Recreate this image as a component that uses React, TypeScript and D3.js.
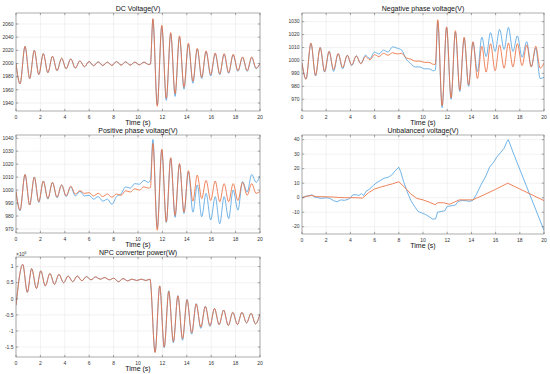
import * as d3 from 'd3'
import * as React from 'react'

// shared time axis ticks (s)
const timeTicks = [0, 2, 4, 6, 8, 10, 12, 14, 16, 18, 20]

// times of the turning points of the voltage traces (s)
const tVolt = [
  0, 0.33, 0.74, 1.12, 1.5, 1.87, 2.24, 2.61, 2.99, 3.36,
  3.74, 4.11, 4.49, 4.86, 5.24, 5.61, 5.99, 6.36, 6.74, 7.11,
  7.49, 7.86, 8.24, 8.61, 8.99, 9.36, 9.74, 10.11, 10.49, 10.86,
  11.02, 11.22, 11.58, 11.95, 12.32, 12.68, 13.04, 13.4, 13.77, 14.13,
  14.5, 14.86, 15.22, 15.58, 15.96, 16.33, 16.7, 17.06, 17.43, 17.8,
  18.19, 18.57, 18.95, 19.32, 19.68, 20,
]

// DC Voltage(V)
const dcTicks = [1940, 1960, 1980, 2000, 2020, 2040, 2060]
const dcBlue = [
  2000, 1969, 2026, 1977, 2020, 1983, 2015, 1986, 2011, 1989,
  2008, 1992, 2007, 1993, 2004, 1995, 2003, 1996.5, 2002.5, 1997,
  2002, 1997, 2003, 1997.5, 2002.5, 1997.5, 2002, 1998, 2002, 1998.5,
  1999, 2067, 1937, 2056, 1944, 2045, 1950, 2040, 1961, 2029,
  1970, 2022, 1977, 2018, 1981, 2015, 1983, 2014, 1985, 2013,
  1988, 2009, 1988, 2009, 1992, 2000,
]
const dcOrange = [
  2000, 1969, 2026, 1977, 2020, 1983, 2015, 1986, 2011, 1989,
  2008, 1992, 2007, 1993, 2004, 1995, 2003, 1996.5, 2002.5, 1997,
  2002, 1997, 2003, 1997.5, 2002.5, 1997.5, 2002, 1998, 2002, 1998.5,
  1999, 2068, 1935, 2058, 1947, 2047, 1954, 2042, 1964, 2031,
  1973, 2023, 1979, 2019, 1983, 2016, 1984, 2015, 1986, 2014,
  1989, 2010, 1989, 2010, 1993, 2000,
]

// Negative phase voltage(V)
const negTicks = [970, 980, 990, 1000, 1010, 1020, 1030]
const negBlue = [
  998, 985.5, 1013, 988, 1010, 991, 1007, 991.5, 1005, 993.5,
  1004, 996, 1003.5, 997.5, 1004, 1001.5, 1006.5, 1005, 1008, 1006.5,
  1010.5, 1009.5, 1008, 1001, 997.5, 995, 995, 993.5, 993.5, 992,
  992.5, 1030, 963.5, 1025.5, 970, 1022, 976, 1017, 980, 1014,
  991.5, 1018, 1003, 1021.5, 1007, 1024, 1008.5, 1025.5, 1007, 1019,
  1002.5, 1014.5, 995, 1009.5, 986, 987,
]
const negOrange = [
  998, 985.5, 1013.5, 988.5, 1010, 991.5, 1007, 993, 1005.5, 994.5,
  1004, 996.5, 1003.5, 997.5, 1003, 1000.5, 1004.5, 1003, 1005.5, 1004,
  1006, 1005, 1005.5, 1002, 1001, 999.5, 999.5, 998.5, 998.5, 997,
  997, 1031.5, 965, 1026, 971, 1023, 977, 1018, 981, 1014.5,
  986, 1011, 991, 1013, 992, 1012, 994, 1013.5, 995, 1013,
  996, 1012, 995, 1011, 994, 998,
]

// Positive phase voltage(V)
const posTicks = [970, 980, 990, 1000, 1010, 1020, 1030, 1040]
const posBlue = [
  999, 984, 1012, 988.5, 1010, 990.5, 1007, 993, 1006, 994,
  1004, 995, 1002.5, 995.5, 999, 995.5, 996, 993, 995, 991.5,
  993, 989, 995, 997, 1002.5, 1001.5, 1005, 1004.5, 1007.5, 1006,
  1008, 1039, 971, 1031, 975, 1024.5, 979, 1020, 982, 1014,
  983, 1004, 979.5, 997.5, 977, 995, 974, 995, 978, 1000,
  984.5, 1006.5, 998.5, 1012, 1006, 1011,
]
const posOrange = [
  999, 984.5, 1012, 988.5, 1010, 991, 1007, 993.5, 1006, 994.5,
  1004, 995.5, 1003, 997, 999.5, 997.5, 998, 995.5, 997.5, 995,
  997, 994.5, 997, 996, 999.5, 998.5, 1001, 1000, 1002.5, 1001.5,
  1002, 1036, 969, 1031.5, 975.5, 1025, 980.5, 1020.5, 983, 1015,
  991.5, 1011.5, 993.5, 1007.5, 992, 1007, 991, 1005, 991, 1005,
  992, 1006, 996, 1005, 997.5, 999,
]

// Unbalanced voltage(V)
const unbTicks = [-20, -10, 0, 10, 20, 30, 40]
const tUnbBlue = [
  0, 0.3, 0.6, 0.85, 1.0, 1.3, 1.6, 2.0, 2.3, 2.6,
  2.9, 3.2, 3.5, 3.8, 4.0, 4.2, 4.5, 4.7, 4.9, 5.1,
  5.3, 5.6, 5.9, 6.2, 6.5, 6.8, 7.1, 7.4, 7.7, 8.0,
  8.15, 8.4, 8.7, 9.0, 9.3, 9.6, 9.9, 10.2, 10.5, 10.8,
  11.05, 11.2, 11.5, 11.8, 12.0, 12.4, 12.7, 12.9, 13.2, 13.5,
  13.8, 14.1, 14.4, 14.8, 15.2, 15.5, 15.8, 16.1, 16.4, 16.7,
  16.9, 17.05, 17.5, 18.0, 18.5, 19.0, 19.5, 20,
]
const unbBlue = [
  0, 1, 1.5, 2, 0.5, 0, -0.5, 0, -0.5, -2,
  -2.8, -1.5, -1.8, -1.2, 0, 2, 2, 1.5, 2.8, 1.5,
  4.5, 6, 8.5, 10.5, 12, 13.5, 14, 15.5, 18.5, 21,
  18, 11, 4, -2, -6, -9.5, -10.5, -11.5, -13, -14.8,
  -14.5, -10, -9.5, -9, -6, -5.5, -5, -2.5, -2, -2,
  -2.5, -2, 2, 9, 15, 21, 24, 28, 31, 34,
  38, 40, 30, 19.5, 9, -1.5, -12, -22.5,
]
const tUnbOrange = [
  0, 0.4, 0.8, 1.2, 2.0, 2.5, 3.0, 3.5, 4.0, 4.5,
  5.0, 5.5, 6.0, 6.5, 7.0, 7.5, 8.0, 8.5, 9.0, 9.5,
  10.0, 10.5, 11.0, 11.2, 11.7, 12.2, 12.6, 13.0, 14.1, 15.0,
  16.0, 17.0, 18.0, 19.0, 20,
]
const unbOrange = [
  0, 1, 1.5, 0.8, 0.6, 0.5, 0.2, 0, 0, 0,
  -0.3, 3.5, 6, 7.3, 8.5, 9.6, 11, 7, 2.5, -0.5,
  -1.5, -3, -4.8, -3.5, -3.5, -4.5, -3, -1.5, -1.5, 1.8,
  5.8, 10, 6, 2, -2,
]

// NPC converter power(W), in units of 10^6
const powerTicks = [-1.5, -1, -0.5, 0, 0.5, 1]
const tPower = [
  0, 0.55, 0.93, 1.28, 1.68, 2.03, 2.4, 2.78, 3.15, 3.52,
  3.9, 4.27, 4.65, 5.02, 5.4, 5.77, 6.15, 6.52, 6.9, 7.27,
  7.65, 8.02, 8.4, 8.77, 9.15, 9.52, 9.9, 10.27, 10.65, 10.98,
  11.4, 11.78, 12.15, 12.52, 12.9, 13.27, 13.65, 14.02, 14.4, 14.77,
  15.15, 15.52, 15.9, 16.27, 16.65, 17.02, 17.4, 17.77, 18.15, 18.52,
  18.9, 19.27, 19.63, 20,
]
const powerBlue = [
  -0.2, 1.07, 0.2, 0.94, 0.32, 0.87, 0.4, 0.79, 0.45, 0.76,
  0.5, 0.71, 0.53, 0.71, 0.56, 0.69, 0.59, 0.68, 0.61, 0.66,
  0.59, 0.64, 0.53, 0.63, 0.56, 0.61, 0.57, 0.61, 0.57, 0.61,
  -1.66, 0.4, -1.52, 0.25, -1.37, 0.1, -1.29, -0.02, -1.1, -0.15,
  -0.92, -0.23, -0.86, -0.3, -0.81, -0.35, -0.83, -0.42, -0.8, -0.42,
  -0.75, -0.45, -0.78, -0.47,
]
const powerOrange = [
  -0.2, 1.07, 0.2, 0.94, 0.32, 0.87, 0.4, 0.79, 0.45, 0.76,
  0.5, 0.71, 0.53, 0.71, 0.56, 0.69, 0.59, 0.68, 0.61, 0.66,
  0.59, 0.64, 0.53, 0.63, 0.56, 0.61, 0.57, 0.61, 0.57, 0.61,
  -1.67, 0.4, -1.5, 0.23, -1.33, 0.09, -1.24, -0.03, -1.06, -0.16,
  -0.88, -0.24, -0.83, -0.3, -0.8, -0.35, -0.83, -0.42, -0.8, -0.42,
  -0.75, -0.45, -0.78, -0.47,
]

const BLUE = '#3593dc'
const ORANGE = '#ec6e3e'
const FONT = '"Liberation Sans", Arial, Helvetica, sans-serif'

type Series = { t: number[], v: number[], color: string, width: number }

type PanelProps = {
  id: string
  box: [number, number, number, number] // left, top, right, bottom
  yDomain: [number, number]
  yTicks: number[]
  title: string
  series: Series[]
  curve: d3.CurveFactory
  exponent?: string
}

function Panel({ id, box, yDomain, yTicks, title, series, curve, exponent }: PanelProps) {
  const [l, t, r, b] = box
  const x = d3.scaleLinear().domain([0, 20]).range([l, r])
  const y = d3.scaleLinear().domain(yDomain).range([b, t])
  const line = d3.line<[number, number]>()
    .x(d => x(d[0]))
    .y(d => y(d[1]))
    .curve(curve)
  const cx = (l + r) / 2
  const tick = 2.2

  return <g>
    <defs>
      <clipPath id={'clip-' + id}><rect x={l} y={t} width={r - l} height={b - t} /></clipPath>
    </defs>
    {timeTicks.map(d =>
      <line key={'gx' + d} x1={x(d)} x2={x(d)} y1={t} y2={b} stroke="#e4e4e4" strokeWidth={0.5} />)}
    {yTicks.map(d =>
      <line key={'gy' + d} x1={l} x2={r} y1={y(d)} y2={y(d)} stroke="#e4e4e4" strokeWidth={0.5} />)}
    <g clipPath={'url(#clip-' + id + ')'}>
      {series.map((s, i) =>
        <path key={i} d={line(s.t.map((ti, j) => [ti, s.v[j]] as [number, number]))!}
          fill="none" stroke={s.color} strokeWidth={s.width} strokeLinejoin="round" />)}
    </g>
    <rect x={l} y={t} width={r - l} height={b - t} fill="none" stroke="#777" strokeWidth={0.6} />
    {timeTicks.map(d => <g key={'tx' + d}>
      <line x1={x(d)} x2={x(d)} y1={b} y2={b - tick} stroke="#555" strokeWidth={0.5} />
      <line x1={x(d)} x2={x(d)} y1={t} y2={t + tick} stroke="#555" strokeWidth={0.5} />
      <text x={x(d)} y={b + 8} textAnchor="middle" fontSize={5} fill="#333">{d}</text>
    </g>)}
    {yTicks.map(d => <g key={'ty' + d}>
      <line x1={l} x2={l + tick} y1={y(d)} y2={y(d)} stroke="#555" strokeWidth={0.5} />
      <line x1={r} x2={r - tick} y1={y(d)} y2={y(d)} stroke="#555" strokeWidth={0.5} />
      <text x={l - 2.5} y={y(d)} dy="0.35em" textAnchor="end" fontSize={5} fill="#333">{d}</text>
    </g>)}
    {exponent && <text x={l} y={t - 1.5} fontSize={5} fill="#333">
      ×10<tspan dy={-2} fontSize={3.6}>{exponent}</tspan>
    </text>}
    <text x={cx} y={t - 2.5} textAnchor="middle" fontSize={7} fill="#111">{title}</text>
    <text x={cx} y={b + 13.5} textAnchor="middle" fontSize={7} fill="#111">Time (s)</text>
  </g>
}

export default function App() {
  const pair = (t: number[], blue: number[], tb: number[], orange: number[]): Series[] => [
    { t, v: blue, color: BLUE, width: 0.7 },
    { t: tb, v: orange, color: ORANGE, width: 0.85 },
  ]
  return <svg width={550} height={374} viewBox="0 0 550 374"
    style={{ position: 'absolute', left: 0, top: 0, background: '#fff', fontFamily: FONT }}>
    <rect width={550} height={374} fill="#fff" />
    <Panel id="dc" box={[16, 13, 260, 111]} yDomain={[1927.8, 2076.7]} yTicks={dcTicks}
      title="DC Voltage(V)" curve={d3.curveMonotoneX}
      series={pair(tVolt, dcBlue, tVolt, dcOrange)} />
    <Panel id="neg" box={[302, 13, 544, 111]} yDomain={[960.9, 1036.7]} yTicks={negTicks}
      title="Negative phase voltage(V)" curve={d3.curveMonotoneX}
      series={pair(tVolt, negBlue, tVolt, negOrange)} />
    <Panel id="pos" box={[16, 135, 260, 233]} yDomain={[966.9, 1042.5]} yTicks={posTicks}
      title="Positive phase voltage(V)" curve={d3.curveMonotoneX}
      series={pair(tVolt, posBlue, tVolt, posOrange)} />
    <Panel id="unb" box={[302, 135, 544, 234]} yDomain={[-25, 43.2]} yTicks={unbTicks}
      title="Unbalanced voltage(V)" curve={d3.curveLinear}
      series={pair(tUnbBlue, unbBlue, tUnbOrange, unbOrange)} />
    <Panel id="pow" box={[16, 257, 260, 357]} yDomain={[-1.81, 1.3]} yTicks={powerTicks}
      title="NPC converter power(W)" curve={d3.curveMonotoneX} exponent="6"
      series={pair(tPower, powerBlue, tPower, powerOrange)} />
  </svg>
}
